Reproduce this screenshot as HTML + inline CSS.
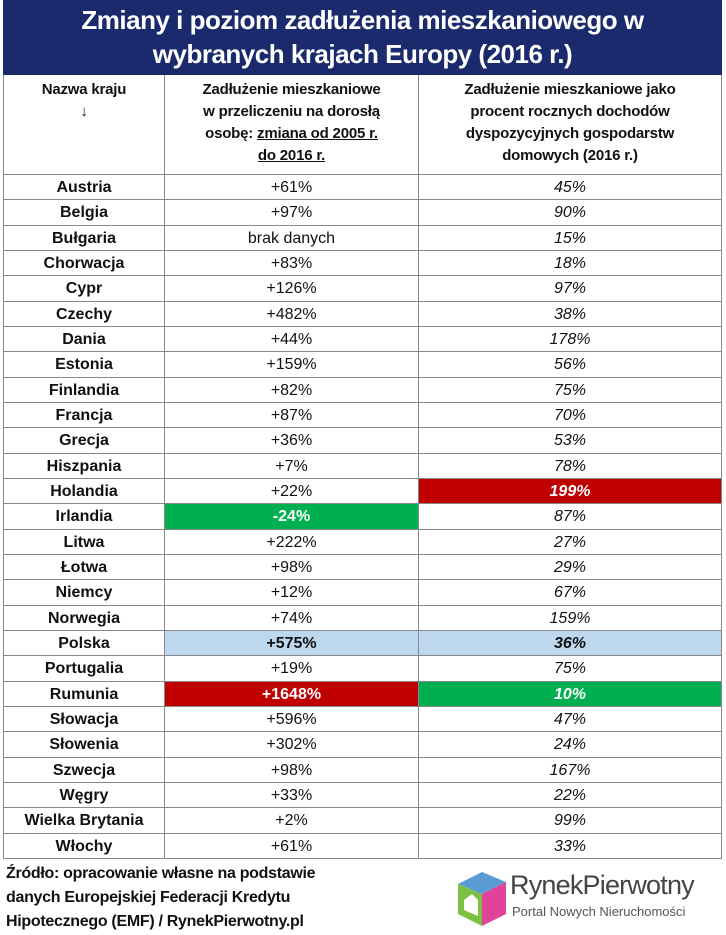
<!DOCTYPE html>
<html><head><meta charset="utf-8">
<style>
body{margin:0;width:726px;height:934px;background:#fff;font-family:"Liberation Sans",sans-serif;position:relative;overflow:hidden}
#title{position:absolute;left:3px;top:0;width:719px;height:75px;background:#1a2a6c;color:#fff;font-weight:bold;font-size:26px;text-align:center;line-height:34px;padding-top:3px;box-sizing:border-box;letter-spacing:-0.5px}
.c{position:absolute;box-sizing:border-box;border-right:1px solid #888;border-bottom:1px solid #888;text-align:center;font-size:16px;color:#111}
.h{font-weight:bold;font-size:15px;line-height:22px;padding-top:4px;letter-spacing:-0.2px}
#src{position:absolute;left:6px;top:862px;font-weight:bold;font-size:16px;line-height:24px;color:#111;letter-spacing:-0.3px}
</style></head><body>
<div id="title">Zmiany i poziom zadłużenia mieszkaniowego w<br>wybranych krajach Europy (2016 r.)</div>
<div id="tbl"></div>
<div id="src">Źródło: opracowanie własne na podstawie<br>danych Europejskiej Federacji Kredytu<br>Hipotecznego (EMF) / RynekPierwotny.pl</div>
<div style="position:absolute;left:452px;top:866px;width:270px;height:64px">
<svg width="60" height="64"><polygon points="6,18 30,6 54,16 30,28" fill="#5b9bd5"/><polygon points="6,18 30,28 30,60 6,48" fill="#7cc142"/><polygon points="30,28 54,16 54,48 30,60" fill="#e0449a"/><polygon points="12,34 20,28 26,34 26,50 12,44" fill="#fff"/></svg>
<div style="position:absolute;left:58px;top:4px;font-size:27px;color:#444;letter-spacing:-0.8px">RynekPierwotny</div>
<div style="position:absolute;left:60px;top:38px;font-size:13px;color:#555">Portal Nowych Nieruchomości</div>
</div>
<script>
const countries=["Austria","Belgia","Bułgaria","Chorwacja","Cypr","Czechy","Dania","Estonia","Finlandia","Francja","Grecja","Hiszpania","Holandia","Irlandia","Litwa","Łotwa","Niemcy","Norwegia","Polska","Portugalia","Rumunia","Słowacja","Słowenia","Szwecja","Węgry","Wielka Brytania","Włochy"];
const changeVals=["+61%","+97%","brak danych","+83%","+126%","+482%","+44%","+159%","+82%","+87%","+36%","+7%","+22%","-24%","+222%","+98%","+12%","+74%","+575%","+19%","+1648%","+596%","+302%","+98%","+33%","+2%","+61%"];
const incomeVals=["45%","90%","15%","18%","97%","38%","178%","56%","75%","70%","53%","78%","199%","87%","27%","29%","67%","159%","36%","75%","10%","47%","24%","167%","22%","99%","33%"];
const hl2={13:"#00b050",18:"#bdd7ee",20:"#c00000"};
const hl3={12:"#c00000",18:"#bdd7ee",20:"#00b050"};
const X=[3,165,419,722],top0=175,rh=25.33;
const t=document.getElementById('tbl');
function cell(x,y,w,h,html,cls){const d=document.createElement('div');d.className='c '+(cls||'');d.style.cssText=`left:${x}px;top:${y}px;width:${w}px;height:${h}px;`;d.innerHTML=html;t.appendChild(d);return d;}
let h1=cell(X[0],75,X[1]-X[0],100,'Nazwa kraju<br>↓','h');h1.style.borderLeft='1px solid #888';


let h2=cell(X[1],75,X[2]-X[1],100,'Zadłużenie mieszkaniowe<br>w przeliczeniu na dorosłą<br>osobę: <u>zmiana od 2005 r.</u><br><u>do 2016 r.</u>','h');


let h3=cell(X[2],75,X[3]-X[2],100,'Zadłużenie mieszkaniowe jako<br>procent rocznych dochodów<br>dyspozycyjnych gospodarstw<br>domowych (2016 r.)','h');


countries.forEach((c,i)=>{
 const y=Math.round(top0+i*rh),h=Math.round(top0+(i+1)*rh)-y;
 let a=cell(X[0],y,X[1]-X[0],h,c);a.style.borderLeft='1px solid #888';a.style.fontWeight='bold';a.style.lineHeight=h+'px';
 
 
 let b=cell(X[1],y,X[2]-X[1],h,changeVals[i]);b.style.lineHeight=h+'px';
 
 
 if(hl2[i]){b.style.background=hl2[i];b.style.fontWeight='bold';b.style.color=hl2[i]=='#bdd7ee'?'#111':'#fff';}
 let d=cell(X[2],y,X[3]-X[2],h,incomeVals[i]);d.style.lineHeight=h+'px';d.style.fontStyle='italic';
 
 
 if(hl3[i]){d.style.background=hl3[i];d.style.fontWeight='bold';d.style.color=hl3[i]=='#bdd7ee'?'#111':'#fff';}
});
</script>
</body></html>
